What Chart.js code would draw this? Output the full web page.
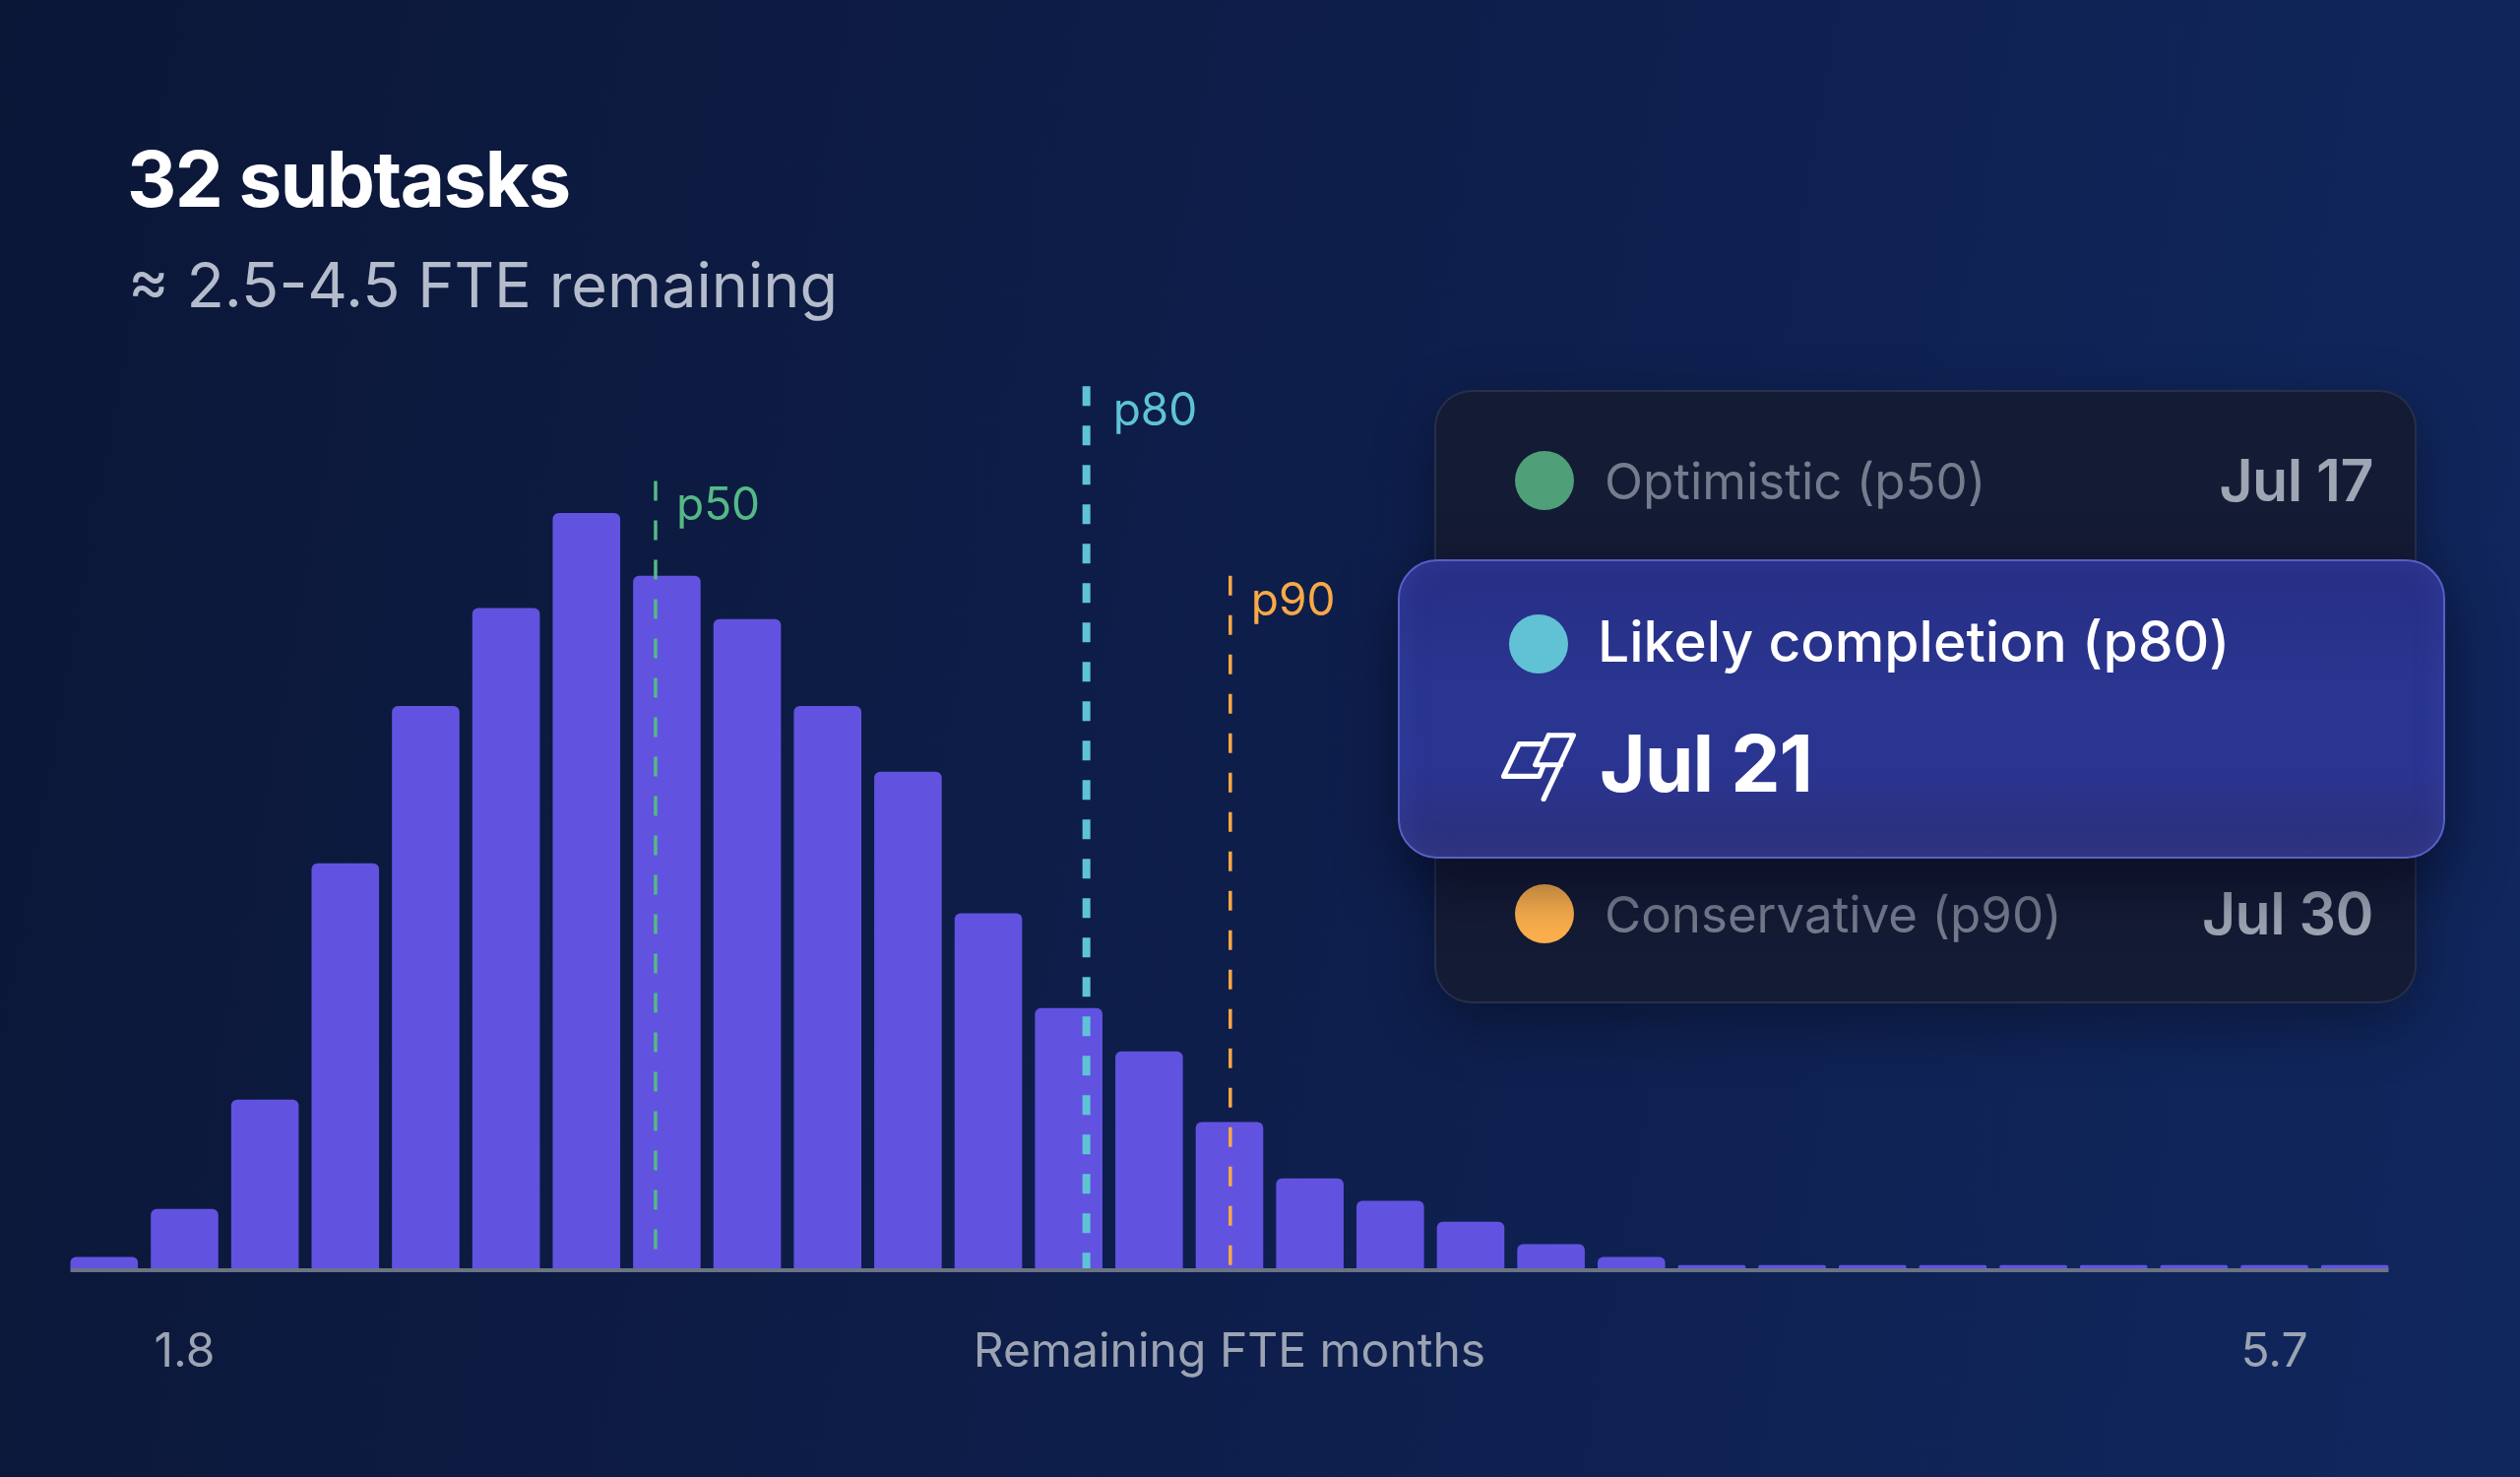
<!DOCTYPE html>
<html>
<head>
<meta charset="utf-8">
<script src="https://cdn.jsdelivr.net/npm/chart.js@4"></script>
<style>
  html, body { margin: 0; padding: 0; }
  body {
    width: 2560px; height: 1500px; overflow: hidden; position: relative;
    font-family: Inter, "Noto Sans", sans-serif;
    background: linear-gradient(100deg, #0b1737 0%, #0e1e4b 50%, #10275e 100%);
  }
  #chartBox { position: absolute; left: 0; top: 0; width: 2560px; height: 1500px; }
  .title { position: absolute; left: 129px; top: 143px; font-size: 78px; line-height: 78px; font-weight: 700; color: #fff; letter-spacing: -1.5px; }
  .subtitle { position: absolute; left: 130px; top: 258px; font-size: 63px; line-height: 63px; color: #b4bbcb; }
  .card { position: absolute; left: 1457px; top: 396px; width: 998px; height: 623px; box-sizing: border-box;
    border-radius: 38px; background: #141b34; border: 2px solid rgba(140,155,190,0.16);
    box-shadow: 0 20px 60px rgba(0,0,0,0.35); }
  .hl { position: absolute; left: 1420px; top: 568px; width: 1064px; height: 304px; box-sizing: border-box;
    border-radius: 40px; border: 2px solid #5660c4;
    background: linear-gradient(180deg, #272e85 0%, #29358f 40%, #2a3591 70%, #2d3079 100%);
    box-shadow: 0 24px 60px rgba(3,6,25,0.55), inset 0 0 30px rgba(80,90,200,0.25); }
  .dot { position: absolute; width: 60px; height: 60px; border-radius: 50%; }
  .row { position: absolute; white-space: nowrap; }
  .lbl { font-size: 51px; line-height: 51px; color: #747c8e; }
  .date { font-size: 59px; line-height: 59px; font-weight: 600; color: #9ea5b3; text-align: right; letter-spacing: -0.5px; }
</style>
</head>
<body>
<div id="chartBox"><canvas id="chart"></canvas></div>

<div class="title">32 subtasks</div>
<div class="subtitle">≈ 2.5-4.5 FTE remaining</div>

<div class="card"></div>
<div id="rows"></div>

<script>
// histogram of simulated remaining effort (bins of FTE months)
const runCounts = [7, 37, 105, 252, 350, 411, 470, 431, 404, 350, 309, 221, 162, 135, 91,
  56, 42, 29, 15, 7, 2, 2, 2, 2, 2, 2, 2, 2, 2];
const xTickLabels = ['', '1.8', '', '', '', '', '', '', '', '', '', '', '', '', '',
  '', '', '', '', '', '', '', '', '', '', '', '', '5.7', ''];
const axisTitle = 'Remaining FTE months';

// percentile markers, position given in bin units
const markerNames = ['p50', 'p80', 'p90'];
const markerPositions = [6.86, 12.22, 14.01];
const markerTops = [490, 549, 431];
const markerColors = ['#55b986', '#5fc3d6', '#f9a945'];
const markerWidths = [3.5, 8, 3.5];

const scenarioNames = ['Optimistic (p50)', 'Likely completion (p80)', 'Conservative (p90)'];
const scenarioDates = ['Jul 17', 'Jul 21', 'Jul 30'];
const scenarioColors = ['#4f9f78', '#62c2d5', '#fdb04d'];

// ---- side card ----
const rows = document.getElementById('rows');
const rowY = [488, null, 928];
[0, 2].forEach(i => {
  rows.insertAdjacentHTML('beforeend',
    `<div class="dot" style="left:1539px;top:${rowY[i] - 30}px;background:${scenarioColors[i]}"></div>` +
    `<div class="row lbl" style="left:1630px;top:${rowY[i] - 25}px">${scenarioNames[i]}</div>` +
    `<div class="row date" style="right:${2560 - 2411}px;top:${rowY[i] - 30}px">${scenarioDates[i]}</div>`);
});
rows.insertAdjacentHTML('beforeend',
  `<div class="hl"></div>` +
  `<div class="dot" style="left:1533px;top:624px;background:${scenarioColors[1]}"></div>` +
  `<div class="row" style="left:1623px;top:623px;font-size:57px;line-height:57px;font-weight:500;color:#fff">${scenarioNames[1]}</div>` +
  `<svg style="position:absolute;left:1525px;top:744px" width="76" height="70" viewBox="0 0 220 205">
     <g fill="none" stroke="#fff" stroke-width="15" stroke-linejoin="round" stroke-linecap="round">
       <path d="M140 8 H214 L125 198"/>
       <path d="M140 8 L100 96 H176"/>
       <path d="M120 34 H52 L6 130 H112 L124 100"/>
     </g>
   </svg>` +
  `<div class="row" style="left:1625px;top:735px;font-size:80px;line-height:80px;font-weight:700;color:#fff;letter-spacing:-1px">${scenarioDates[1]}</div>`);

// ---- chart ----
const markerPlugin = {
  id: 'markers',
  beforeDatasetsDraw(chart) {
    // baseline under the bars, from first bar edge to last bar edge
    const { ctx, chartArea } = chart;
    const bars = chart.getDatasetMeta(0).data;
    const first = bars[0], last = bars[bars.length - 1];
    const x0 = first.x - first.width / 2, x1 = last.x + last.width / 2;
    ctx.save();
    ctx.fillStyle = '#6b7384';
    ctx.fillRect(x0, chartArea.bottom, x1 - x0, 4);
    ctx.restore();
  },
  afterDatasetsDraw(chart) {
    const { ctx, chartArea, scales } = chart;
    ctx.save();
    markerNames.forEach((name, i) => {
      const x = scales.x.getPixelForValue(markerPositions[i]);
      const yTop = scales.y.getPixelForValue(markerTops[i]);
      ctx.strokeStyle = markerColors[i];
      ctx.lineWidth = markerWidths[i];
      ctx.setLineDash([20, 20]);
      ctx.beginPath();
      ctx.moveTo(x, yTop);
      ctx.lineTo(x, chartArea.bottom);
      ctx.stroke();
      ctx.fillStyle = markerColors[i];
      ctx.font = '46px Inter';
      ctx.textBaseline = 'alphabetic';
      ctx.textAlign = 'left';
      ctx.fillText(name, x + (i === 1 ? 27 : 21), yTop + 40);
    });
    ctx.fillStyle = '#9ca3b2';
    ctx.font = '48px Inter';
    ctx.textAlign = 'center';
    ctx.textBaseline = 'middle';
    ctx.fillText(axisTitle, (chartArea.left + chartArea.right) / 2, chartArea.bottom + 86);
    ctx.restore();
  }
};

new Chart(document.getElementById('chart'), {
  type: 'bar',
  data: {
    labels: xTickLabels,
    datasets: [{
      data: runCounts,
      backgroundColor: '#6153e0',
      borderRadius: 6,
      barPercentage: 0.84,
      categoryPercentage: 1.0,
    }],
  },
  options: {
    responsive: true,
    maintainAspectRatio: false,
    devicePixelRatio: 1,
    animation: false,
    layout: { padding: { left: 65, right: 127, top: 309, bottom: 0 } },
    plugins: { legend: { display: false }, tooltip: { enabled: false } },
    scales: {
      x: {
        grid: { display: false },
        border: { display: false },
        ticks: {
          color: '#9ca3b2',
          font: { family: 'Inter', size: 48 },
          padding: 49,
          autoSkip: false,
          maxRotation: 0,
        },
        afterFit(scale) { scale.height = 212; },
      },
      y: { display: false, min: 0, max: 600 },
    },
  },
  plugins: [markerPlugin],
});
</script>
</body>
</html>
